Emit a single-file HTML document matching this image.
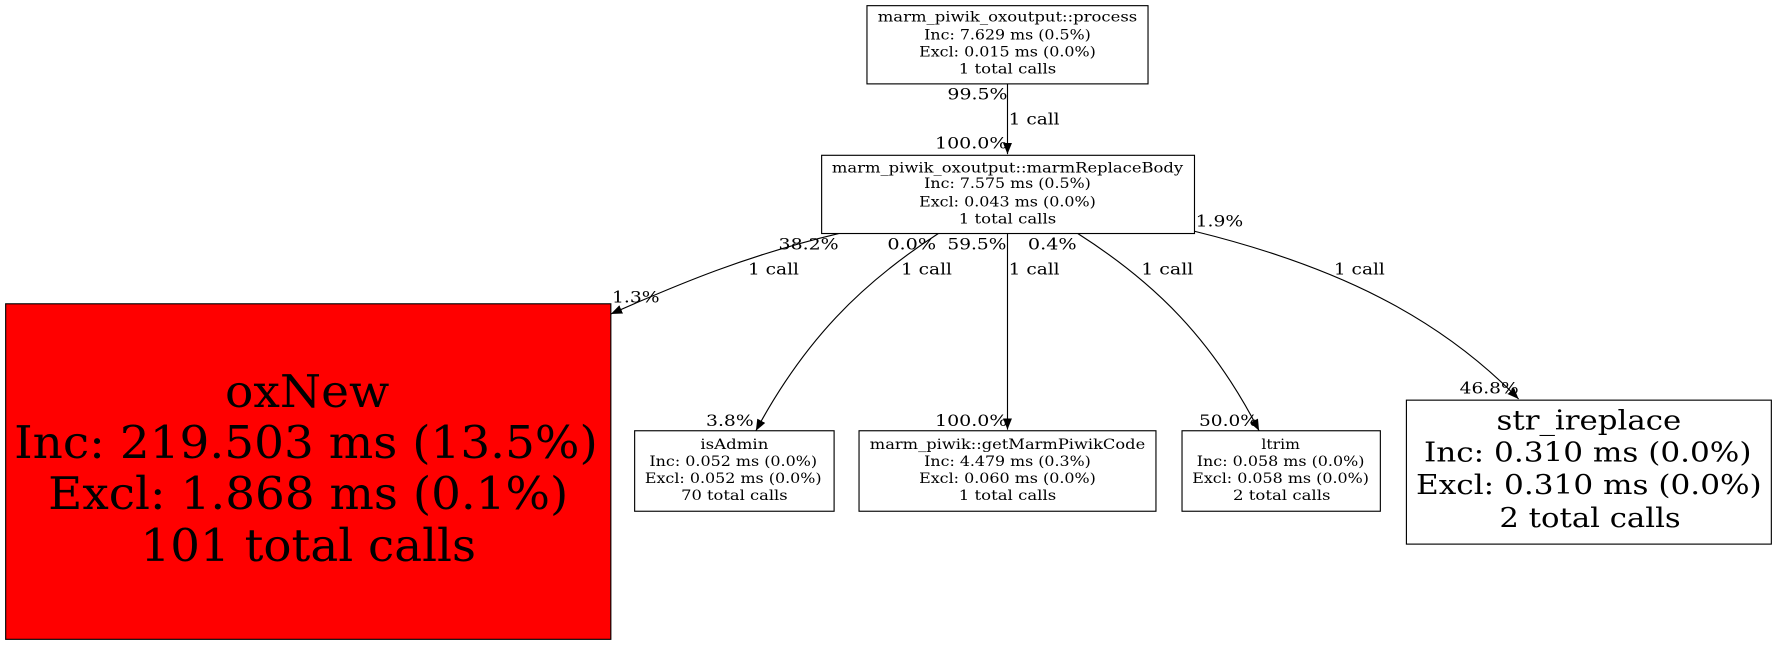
<!DOCTYPE html>
<html><head><meta charset="utf-8"><style>
html,body{margin:0;padding:0;background:#fff;}
svg{display:block;}
text{font-family:"DejaVu Serif","Liberation Serif",serif;fill:#000;}
</style></head><body>
<svg width="1777" height="645" viewBox="0 0 1568 569" preserveAspectRatio="none" xmlns="http://www.w3.org/2000/svg">
<defs><marker id="a" markerWidth="12" markerHeight="12" refX="10" refY="5" orient="auto" markerUnits="userSpaceOnUse"><path d="M0,1 L10,5 L0,9 z" fill="#000"/></marker></defs>
<g fill="none" stroke="#000" stroke-width="1">
<path d="M889,74 L889,136" marker-end="url(#a)"/>
<path d="M740,206 C660,225 600,250 539,277" marker-end="url(#a)"/>
<path d="M828,206 C760,250 710,300 667,380" marker-end="url(#a)"/>
<path d="M889,206 L889,379" marker-end="url(#a)"/>
<path d="M951,206 C1020,250 1070,300 1111,380" marker-end="url(#a)"/>
<path d="M1054,204 C1180,235 1270,280 1340,352" marker-end="url(#a)"/>
</g>
<rect x="765" y="5" width="248" height="69" fill="#fff" stroke="#000"/>
<rect x="725" y="137" width="329" height="69" fill="#fff" stroke="#000"/>
<rect x="5" y="268" width="534" height="296" fill="#ff0000" stroke="#000"/>
<rect x="560" y="380" width="176" height="71" fill="#fff" stroke="#000"/>
<rect x="758" y="380" width="262" height="71" fill="#fff" stroke="#000"/>
<rect x="1043" y="380" width="175" height="71" fill="#fff" stroke="#000"/>
<rect x="1241" y="353" width="322" height="127" fill="#fff" stroke="#000"/>
<g font-size="12" text-anchor="middle" lengthAdjust="spacingAndGlyphs">
<text x="889" y="19" textLength="229" lengthAdjust="spacingAndGlyphs">marm_piwik_oxoutput::process</text>
<text x="889" y="35" textLength="147" lengthAdjust="spacingAndGlyphs">Inc: 7.629 ms (0.5%)</text>
<text x="889" y="50" textLength="156" lengthAdjust="spacingAndGlyphs">Excl: 0.015 ms (0.0%)</text>
<text x="889" y="65" textLength="86" lengthAdjust="spacingAndGlyphs">1 total calls</text>
<text x="889" y="152" textLength="310" lengthAdjust="spacingAndGlyphs">marm_piwik_oxoutput::marmReplaceBody</text>
<text x="889" y="166" textLength="147" lengthAdjust="spacingAndGlyphs">Inc: 7.575 ms (0.5%)</text>
<text x="889" y="182" textLength="156" lengthAdjust="spacingAndGlyphs">Excl: 0.043 ms (0.0%)</text>
<text x="889" y="197" textLength="86" lengthAdjust="spacingAndGlyphs">1 total calls</text>
<text x="648" y="396" textLength="60" lengthAdjust="spacingAndGlyphs">isAdmin</text>
<text x="647" y="411" textLength="148" lengthAdjust="spacingAndGlyphs">Inc: 0.052 ms (0.0%)</text>
<text x="647" y="426" textLength="156" lengthAdjust="spacingAndGlyphs">Excl: 0.052 ms (0.0%)</text>
<text x="648" y="441" textLength="94" lengthAdjust="spacingAndGlyphs">70 total calls</text>
<text x="889" y="396" textLength="243" lengthAdjust="spacingAndGlyphs">marm_piwik::getMarmPiwikCode</text>
<text x="889" y="411" textLength="147" lengthAdjust="spacingAndGlyphs">Inc: 4.479 ms (0.3%)</text>
<text x="889" y="426" textLength="156" lengthAdjust="spacingAndGlyphs">Excl: 0.060 ms (0.0%)</text>
<text x="889" y="441" textLength="86" lengthAdjust="spacingAndGlyphs">1 total calls</text>
<text x="1130" y="396" textLength="34" lengthAdjust="spacingAndGlyphs">ltrim</text>
<text x="1130" y="411" textLength="148" lengthAdjust="spacingAndGlyphs">Inc: 0.058 ms (0.0%)</text>
<text x="1130" y="426" textLength="156" lengthAdjust="spacingAndGlyphs">Excl: 0.058 ms (0.0%)</text>
<text x="1131" y="441" textLength="86" lengthAdjust="spacingAndGlyphs">2 total calls</text>
</g>
<g font-size="40" text-anchor="middle">
<text x="271" y="359" textLength="145" lengthAdjust="spacingAndGlyphs">oxNew</text>
<text x="270" y="404" textLength="515" lengthAdjust="spacingAndGlyphs">Inc: 219.503 ms (13.5%)</text>
<text x="272" y="449" textLength="459" lengthAdjust="spacingAndGlyphs">Excl: 1.868 ms (0.1%)</text>
<text x="272" y="495" textLength="296" lengthAdjust="spacingAndGlyphs">101 total calls</text>
</g>
<g font-size="24" text-anchor="middle">
<text x="1402" y="379" textLength="163" lengthAdjust="spacingAndGlyphs">str_ireplace</text>
<text x="1401" y="407" textLength="289" lengthAdjust="spacingAndGlyphs">Inc: 0.310 ms (0.0%)</text>
<text x="1402" y="436" textLength="305" lengthAdjust="spacingAndGlyphs">Excl: 0.310 ms (0.0%)</text>
<text x="1403" y="465" textLength="160" lengthAdjust="spacingAndGlyphs">2 total calls</text>
</g>
<g font-size="14">
<text x="836" y="88" textLength="53" lengthAdjust="spacingAndGlyphs">99.5%</text>
<text x="890" y="110" textLength="45" lengthAdjust="spacingAndGlyphs">1 call</text>
<text x="825" y="131" textLength="64" lengthAdjust="spacingAndGlyphs">100.0%</text>
<text x="687" y="220" textLength="53" lengthAdjust="spacingAndGlyphs">38.2%</text>
<text x="660" y="242" textLength="45" lengthAdjust="spacingAndGlyphs">1 call</text>
<text x="540" y="267" textLength="42" lengthAdjust="spacingAndGlyphs">1.3%</text>
<text x="783" y="220" textLength="43" lengthAdjust="spacingAndGlyphs">0.0%</text>
<text x="795" y="242" textLength="45" lengthAdjust="spacingAndGlyphs">1 call</text>
<text x="836" y="220" textLength="52" lengthAdjust="spacingAndGlyphs">59.5%</text>
<text x="890" y="242" textLength="45" lengthAdjust="spacingAndGlyphs">1 call</text>
<text x="825" y="376" textLength="64" lengthAdjust="spacingAndGlyphs">100.0%</text>
<text x="907" y="220" textLength="43" lengthAdjust="spacingAndGlyphs">0.4%</text>
<text x="1007" y="242" textLength="46" lengthAdjust="spacingAndGlyphs">1 call</text>
<text x="1058" y="376" textLength="52" lengthAdjust="spacingAndGlyphs">50.0%</text>
<text x="1055" y="200" textLength="42" lengthAdjust="spacingAndGlyphs">1.9%</text>
<text x="1177" y="242" textLength="45" lengthAdjust="spacingAndGlyphs">1 call</text>
<text x="623" y="376" textLength="42" lengthAdjust="spacingAndGlyphs">3.8%</text>
<text x="1288" y="347" textLength="52" lengthAdjust="spacingAndGlyphs">46.8%</text>
</g>
</svg>
</body></html>
